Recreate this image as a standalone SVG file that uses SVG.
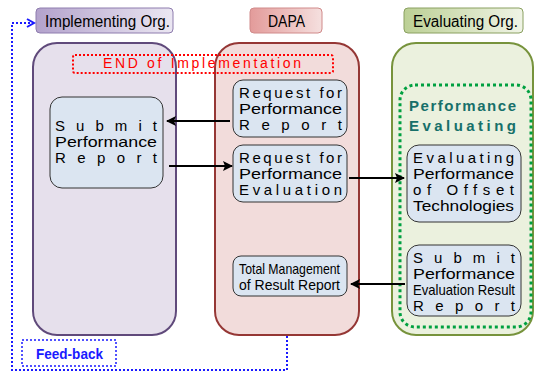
<svg xmlns="http://www.w3.org/2000/svg" width="534" height="373" viewBox="0 0 534 373">
<defs>
<linearGradient id="gP" x1="0" y1="0" x2="1" y2="0"><stop offset="0" stop-color="#b3a2cc"/><stop offset="1" stop-color="#ebe7f2"/></linearGradient>
<linearGradient id="gR" x1="0" y1="0" x2="1" y2="0"><stop offset="0" stop-color="#e39b9a"/><stop offset="1" stop-color="#f5e0df"/></linearGradient>
<linearGradient id="gG" x1="0" y1="0" x2="1" y2="0"><stop offset="0" stop-color="#bcd095"/><stop offset="1" stop-color="#f0f4e6"/></linearGradient>
<marker id="ah" markerWidth="10" markerHeight="10" refX="9" refY="5" orient="auto" markerUnits="userSpaceOnUse">
<path d="M0,0 L10,5 L0,10 L2,5 Z" fill="#000"/>
</marker>
<marker id="bh" markerWidth="10" markerHeight="10" refX="8" refY="5" orient="auto" markerUnits="userSpaceOnUse">
<path d="M1,1 L8,5 L1,9" fill="none" stroke="#1a1aff" stroke-width="2"/>
</marker>
<style>
.t{font-family:"Liberation Sans",Arial,sans-serif;font-size:15px;fill:#000}
.s{font-family:"Liberation Sans",Arial,sans-serif;font-size:15px;fill:#000}
.h{font-family:"Liberation Sans",Arial,sans-serif;font-size:16px;fill:#000}
.box{fill:#dbe5f1;stroke:#333;stroke-width:1}
.conn{stroke:#000;stroke-width:2;fill:none;marker-end:url(#ah)}
</style>
</defs>

<g id="lane-implementing">
<rect x="36" y="8" width="137" height="25" rx="4" fill="url(#gP)" stroke="#8e7cae" stroke-width="1"/>
<text class="h" x="45" y="27" textLength="125" lengthAdjust="spacingAndGlyphs">Implementing Org.</text>
<rect x="33" y="43" width="143" height="292" rx="24" fill="#e6e0ec" stroke="#604a7b" stroke-width="2"/>
</g>
<g id="lane-dapa">
<rect x="250" y="8" width="72" height="25" rx="4" fill="url(#gR)" stroke="#d08a8a" stroke-width="1"/>
<text class="h" x="268" y="27" textLength="37" lengthAdjust="spacingAndGlyphs">DAPA</text>
<rect x="215" y="43" width="144" height="292" rx="24" fill="#f2dcdb" stroke="#953735" stroke-width="2"/>
</g>
<g id="lane-evaluating">
<rect x="404" y="8" width="119" height="25" rx="4" fill="url(#gG)" stroke="#8aa060" stroke-width="1"/>
<text class="h" x="413" y="27" textLength="105" lengthAdjust="spacingAndGlyphs">Evaluating Org.</text>
<rect x="392" y="43" width="141" height="292" rx="24" fill="#ebf1de" stroke="#77933c" stroke-width="2"/>
</g>

<g id="end-of-implementation">
<rect x="73" y="55" width="260" height="18" rx="2" fill="none" stroke="#ff0000" stroke-width="2" stroke-dasharray="2,2"/>
<text x="103" y="68" font-family="Liberation Sans,Arial,sans-serif" font-size="14" fill="#ff0000" textLength="198" lengthAdjust="spacing">END of Implementation</text>
</g>

<g id="performance-evaluating">
<rect x="400" y="85" width="131" height="242" rx="15" fill="none" stroke="#00a040" stroke-width="3" stroke-dasharray="3,3"/>
<text x="409" y="111" font-family="Liberation Sans,Arial,sans-serif" font-size="15" font-weight="bold" fill="#17706a" textLength="107" lengthAdjust="spacing">Performance</text>
<text x="409" y="131" font-family="Liberation Sans,Arial,sans-serif" font-size="15" font-weight="bold" fill="#17706a" textLength="107" lengthAdjust="spacing">Evaluating</text>
</g>

<g id="submit-performance-report">
<rect class="box" x="50" y="97" width="113" height="91" rx="12"/>
<text class="t" x="55" y="131" textLength="102" lengthAdjust="spacing">Submit</text>
<text class="t" x="55" y="147" textLength="102" lengthAdjust="spacingAndGlyphs">Performance</text>
<text class="t" x="55" y="163" textLength="102" lengthAdjust="spacing">Report</text>
</g>

<g id="request-performance-report">
<rect class="box" x="233" y="80" width="114" height="57" rx="10"/>
<text class="t" x="239" y="98" textLength="103" lengthAdjust="spacing">Request for</text>
<text class="t" x="239" y="114" textLength="103" lengthAdjust="spacingAndGlyphs">Performance</text>
<text class="t" x="239" y="130" textLength="103" lengthAdjust="spacing">Report</text>
</g>

<g id="request-performance-evaluation">
<rect class="box" x="233" y="145" width="114" height="57" rx="10"/>
<text class="t" x="239" y="163" textLength="103" lengthAdjust="spacing">Request for</text>
<text class="t" x="239" y="179" textLength="103" lengthAdjust="spacingAndGlyphs">Performance</text>
<text class="t" x="239" y="195" textLength="103" lengthAdjust="spacing">Evaluation</text>
</g>

<g id="evaluating-offset">
<rect class="box" x="407" y="145" width="114" height="77" rx="12"/>
<text class="t" x="413" y="163" textLength="101" lengthAdjust="spacing">Evaluating</text>
<text class="t" x="413" y="179" textLength="101" lengthAdjust="spacingAndGlyphs">Performance</text>
<text class="t" x="413" y="195" textLength="101" lengthAdjust="spacing">of Offset</text>
<text class="t" x="413" y="211" textLength="101" lengthAdjust="spacingAndGlyphs">Technologies</text>
</g>

<g id="total-management">
<rect class="box" x="233" y="256" width="114" height="40" rx="8"/>
<text class="t" x="239" y="274" textLength="101" lengthAdjust="spacingAndGlyphs">Total Management</text>
<text class="t" x="239" y="290" textLength="101" lengthAdjust="spacingAndGlyphs">of Result Report</text>
</g>

<g id="submit-evaluation-result">
<rect class="box" x="407" y="245" width="114" height="71" rx="12"/>
<text class="t" x="413" y="263" textLength="102" lengthAdjust="spacing">Submit</text>
<text class="t" x="413" y="279" textLength="102" lengthAdjust="spacingAndGlyphs">Performance</text>
<text class="t" x="413" y="295" textLength="102" lengthAdjust="spacingAndGlyphs">Evaluation Result</text>
<text class="t" x="413" y="311" textLength="102" lengthAdjust="spacing">Report</text>
</g>

<g id="feed-back">
<rect x="22" y="340" width="94" height="26" fill="none" stroke="#1a1aff" stroke-width="1.5" stroke-dasharray="2,2"/>
<text x="36" y="359" font-family="Liberation Sans,Arial,sans-serif" font-size="15" font-weight="bold" fill="#1a1aff" textLength="67" lengthAdjust="spacingAndGlyphs">Feed-back</text>
</g>

<g id="connectors">
<line class="conn" x1="230" y1="121" x2="167" y2="121"/>
<line class="conn" x1="169" y1="166" x2="232" y2="166"/>
<line class="conn" x1="349" y1="178" x2="404" y2="178"/>
<line class="conn" x1="405" y1="284" x2="351" y2="284"/>
<path d="M287,336 V370 H12 V23 H34" fill="none" stroke="#1a1aff" stroke-width="2" stroke-dasharray="2,2" marker-end="url(#bh)"/>
</g>
</svg>
